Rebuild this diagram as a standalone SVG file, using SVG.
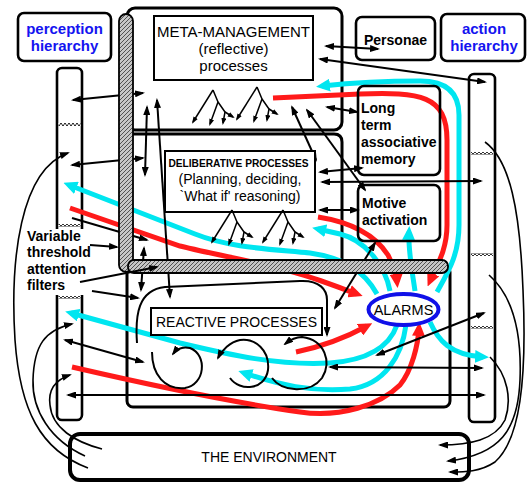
<svg xmlns="http://www.w3.org/2000/svg" xmlns:xlink="http://www.w3.org/1999/xlink" width="527" height="482" viewBox="0 0 527 482">
<style>
text{font-family:"Liberation Sans",Arial,Helvetica,sans-serif;fill:#000}
.r15{font-size:15px}
.r14{font-size:14px}
.b14{font-size:14px;font-weight:bold}
.blue{font-size:15px;font-weight:bold;fill:#1414f0}
.frame{fill:none;stroke:#000;stroke-width:3}
.box{fill:#fff;stroke:#000;stroke-width:2}
.rbox{fill:none;stroke:#000;stroke-width:2.6}
.ar{fill:none;stroke:#000;stroke-width:2}
.ar2{fill:none;stroke:#000;stroke-width:1.6}
.cy{fill:none;stroke:#00e6f0;stroke-width:5}
.rd{fill:none;stroke:#ff1a1a;stroke-width:5}
.bar{fill:url(#h);stroke:#000;stroke-width:1.8}
.div{fill:url(#k)}
</style>
<defs>
<pattern id="h" width="4" height="4" patternUnits="userSpaceOnUse"><rect width="4" height="4" fill="#c6c6c6"/><path d="M-1,1 L1,-1 M0,4 L4,0 M3,5 L5,3" stroke="#444" stroke-width="0.9"/></pattern>
<pattern id="k" width="4" height="3" patternUnits="userSpaceOnUse"><rect width="4" height="3" fill="#fff"/><rect width="2" height="1.5" fill="#333"/><rect x="2" y="1.5" width="2" height="1.5" fill="#333"/></pattern>
<marker id="a" viewBox="0 0 10 7" refX="8" refY="3.5" markerWidth="10" markerHeight="7" markerUnits="userSpaceOnUse" orient="auto-start-reverse"><path d="M0,0 L10,3.5 L0,7 z" fill="#000"/></marker>
<marker id="s" viewBox="0 0 7 5" refX="5" refY="2.5" markerWidth="7" markerHeight="5" markerUnits="userSpaceOnUse" orient="auto"><path d="M0,0 L7,2.5 L0,5 z" fill="#000"/></marker>
<marker id="mc" viewBox="0 0 14 13" refX="8" refY="6.5" markerWidth="14" markerHeight="13" markerUnits="userSpaceOnUse" orient="auto"><path d="M0,0 L14,6.5 L0,13 z" fill="#00e6f0"/></marker>
<marker id="mr" viewBox="0 0 14 13" refX="8" refY="6.5" markerWidth="14" markerHeight="13" markerUnits="userSpaceOnUse" orient="auto"><path d="M0,0 L14,6.5 L0,13 z" fill="#ff1a1a"/></marker>
<g id="tree" fill="none" stroke="#000" stroke-width="1.5">
<path d="M0,0 L-20,32" marker-end="url(#s)"/>
<path d="M0,0 L5,12 L-3,34" marker-end="url(#s)"/>
<path d="M5,12 L12,22 L10,33" marker-end="url(#s)"/>
<path d="M12,22 L20,27" marker-end="url(#s)"/>
</g>
</defs>
<rect width="527" height="482" fill="#fff"/>

<g id="perception-label">
<rect x="18" y="13" width="93" height="48" rx="6" class="rbox"/>
<text x="64.5" y="34" text-anchor="middle" class="blue">perception</text>
<text x="64.5" y="51" text-anchor="middle" class="blue">hierarchy</text>
</g>
<g id="action-label">
<rect x="441" y="14" width="84" height="47" rx="6" class="rbox"/>
<text x="484" y="34" text-anchor="middle" class="blue">action</text>
<text x="484" y="51" text-anchor="middle" class="blue">hierarchy</text>
</g>
<g id="personae">
<rect x="356" y="17" width="79" height="43" rx="6" class="rbox"/>
<text x="395.5" y="45" text-anchor="middle" class="b14">Personae</text>
</g>
<g id="perception-column">
<rect x="57" y="68" width="25" height="352" rx="5" class="rbox"/>
<rect x="58.5" y="123" width="22" height="3" class="div"/>
<rect x="58.5" y="224" width="22" height="3" class="div"/>
<rect x="58.5" y="296" width="22" height="3" class="div"/>
</g>
<g id="action-column">
<rect x="469" y="74" width="26" height="348" rx="5" class="rbox"/>
<rect x="471" y="152" width="22" height="3" class="div"/>
<rect x="471" y="253" width="22" height="3" class="div"/>
<rect x="471" y="326" width="22" height="3" class="div"/>
</g>
<g id="layer-frames">
<rect x="127" y="8" width="215" height="122" rx="8" class="frame"/>
<path d="M133,134 L334,134 Q342,134 342,142 L342,260" class="frame"/>
<rect x="127" y="266" width="323" height="141" rx="6" class="frame"/>
</g>
<g id="environment">
<rect x="70" y="434" width="399" height="46" rx="10" fill="none" stroke="#000" stroke-width="4"/>
<text x="269" y="462" text-anchor="middle" class="r14">THE ENVIRONMENT</text>
</g>

<g id="connectors">
<g id="flows">
<path class="cy" marker-end="url(#mc)" d="M437,292 C448,272 459,255 459,225 L459,115 C459,92 446,81 420,81 C385,81 350,83 322,86"/>
<path class="cy" marker-end="url(#mc)" d="M377,294 C365,272 345,258 310,253 C270,249 230,248 195,234 L69,185"/>
<path class="cy" marker-end="url(#mc)" d="M390,291 C385,265 365,240 340,234 L318,229"/>
<path class="cy" marker-end="url(#mc)" d="M415,291 C412,270 408,250 409,232"/>
<path class="cy" marker-end="url(#mc)" d="M430,322 C438,340 450,355 483,357"/>
<path class="cy" marker-end="url(#mc)" d="M397,325 C390,345 370,360 330,363 C280,366 230,355 180,343 L71,313"/>
<path class="cy" marker-end="url(#mc)" d="M406,325 C402,355 385,385 350,389 C310,392 280,385 244,373"/>
<path class="rd" marker-end="url(#mr)" d="M273,98 L360,94 C420,92 447,95 447,140 L447,225 C447,250 437,265 430,281"/>
<path class="rd" marker-end="url(#mr)" d="M70,208 L180,246 C220,256 260,262 300,274 C320,280 338,287 357,294"/>
<path class="rd" marker-end="url(#mr)" d="M318,217 C350,222 375,235 388,255 C393,265 396,272 397,282"/>
<path class="rd" marker-end="url(#mr)" d="M296,352 C320,347 345,338 367,326"/>
<path class="rd" marker-end="url(#mr)" d="M72,367 C150,385 230,402 300,412 C340,418 380,405 400,385 C412,370 418,345 419,328"/>
</g>
<g id="arrows">
<path class="ar" marker-start="url(#a)" marker-end="url(#a)" d="M73,100 L143,93"/>
<path class="ar" marker-start="url(#a)" marker-end="url(#a)" d="M72,165 L143,158"/>
<path class="ar" marker-start="url(#a)" marker-end="url(#a)" d="M147,107 L145,175"/>
<path class="ar" marker-start="url(#a)" marker-end="url(#a)" d="M157,100 L170,297"/>
<path class="ar" marker-start="url(#a)" marker-end="url(#a)" d="M144,248 L141,290"/>
<path class="ar" marker-start="url(#a)" marker-end="url(#a)" d="M326,46 L378,49"/>
<path class="ar" marker-start="url(#a)" marker-end="url(#a)" d="M320,59 L485,82"/>
<path class="ar" marker-start="url(#a)" marker-end="url(#a)" d="M327,107 L357,112"/>
<path class="ar" marker-start="url(#a)" marker-end="url(#a)" d="M292,107 L316,160"/>
<path class="ar" marker-start="url(#a)" marker-end="url(#a)" d="M307,110 L365,190"/>
<path class="ar" marker-start="url(#a)" marker-end="url(#a)" d="M320,172 L362,168"/>
<path class="ar" marker-start="url(#a)" marker-end="url(#a)" d="M322,182 L481,181"/>
<path class="ar" marker-start="url(#a)" marker-end="url(#a)" d="M320,210 L358,210"/>
<path class="ar" marker-start="url(#a)" marker-end="url(#a)" d="M375,243 L335,308"/>
<path class="ar" marker-start="url(#a)" marker-end="url(#a)" d="M484,313 L377,355"/>
<path class="ar" marker-start="url(#a)" marker-end="url(#a)" d="M330,367 L482,368"/>
<path class="ar" marker-start="url(#a)" marker-end="url(#a)" d="M68,395 L484,395"/>
<path class="ar" marker-start="url(#a)" marker-end="url(#a)" d="M65,340 L143,362"/>
<path class="ar" marker-end="url(#a)" d="M72,218 L147,240"/>
<path class="ar" stroke-width="2.4" marker-end="url(#a)" d="M137,343 C135,315 138,290 165,287 L300,281 C320,280 327,290 327,300 L327,335"/>
<path class="ar" stroke-width="2.4" marker-end="url(#a)" d="M152,352 C152,375 165,390 185,388 C205,385 208,355 190,348 C182,346 176,350 173,354"/>
<path class="ar" stroke-width="2.4" marker-end="url(#a)" d="M230,378 C240,392 265,390 268,370 C270,350 255,338 240,340 C230,342 222,350 218,358"/>
<path class="ar" stroke-width="2.4" marker-end="url(#a)" d="M272,378 C282,392 310,394 322,378 C332,362 325,340 302,337 C295,337 290,340 285,344"/>
<path class="ar2" marker-end="url(#a)" d="M88,468 C40,450 20,410 15,340 C10,260 20,170 68,153"/>
<path class="ar2" marker-end="url(#a)" d="M85,456 C50,440 32,410 33,380 C34,345 45,330 72,324"/>
<path class="ar2" marker-end="url(#a)" d="M102,449 C75,442 52,428 50,405 C48,390 55,380 70,375"/>
<path class="ar2" marker-end="url(#a)" d="M485,142 C510,160 520,210 523,290 C527,380 520,440 495,462 C480,472 465,472 450,472"/>
<path class="ar2" marker-end="url(#a)" d="M489,275 C512,295 522,330 520,380 C518,430 500,455 448,461"/>
<path class="ar2" marker-end="url(#a)" d="M490,357 C508,375 512,400 505,420 C495,440 470,445 440,445"/>
</g>
</g>

<g id="meta-management">
<rect x="154" y="16" width="159" height="64" class="box"/>
<text x="233.5" y="37" text-anchor="middle" class="r15">META-MANAGEMENT</text>
<text x="233.5" y="54" text-anchor="middle" class="r15">(reflective)</text>
<text x="233.5" y="71" text-anchor="middle" class="r15">processes</text>
<use xlink:href="#tree" href="#tree" transform="translate(213,90)"/>
<use xlink:href="#tree" href="#tree" transform="translate(257,87)"/>
</g>
<g id="deliberative">
<rect x="165" y="151" width="150" height="61" class="box"/>
<text x="238.5" y="167" text-anchor="middle" font-size="10.2" font-weight="bold">DELIBERATIVE PROCESSES</text>
<text x="240" y="184" text-anchor="middle" class="r14">(Planning, deciding,</text>
<text x="240" y="201" text-anchor="middle" class="r14">`What if' reasoning)</text>
<use xlink:href="#tree" href="#tree" transform="translate(232,210)"/>
<use xlink:href="#tree" href="#tree" transform="translate(283,210)"/>
</g>
<g id="reactive">
<rect x="151" y="308" width="171" height="27" class="box"/>
<text x="236.5" y="327" text-anchor="middle" class="r14">REACTIVE PROCESSES</text>
</g>
<g id="long-term-memory">
<rect x="358" y="86" width="82" height="89" rx="6" class="rbox"/>
<text x="361" y="113" class="b14">Long</text>
<text x="361" y="130" class="b14">term</text>
<text x="361" y="147" class="b14">associative</text>
<text x="361" y="164" class="b14">memory</text>
</g>
<g id="motive-activation">
<rect x="358" y="185" width="82" height="56" rx="6" class="rbox"/>
<text x="362" y="208" class="b14">Motive</text>
<text x="362" y="225" class="b14">activation</text>
</g>
<g id="alarms">
<ellipse cx="403.5" cy="309.5" rx="35" ry="15.5" fill="#fff" stroke="#1010e8" stroke-width="4"/>
<text x="403.5" y="315" text-anchor="middle" font-size="14.5">ALARMS</text>
</g>

<g id="attention-filters">
<rect x="119" y="14" width="14" height="258" rx="7" class="bar"/>
<rect x="128" y="260" width="320" height="13" rx="6" class="bar"/>
<rect x="25" y="229" width="66" height="66" fill="#fff"/>
<text x="27" y="241" class="b14">Variable</text>
<text x="27" y="257" class="b14">threshold</text>
<text x="27" y="274" class="b14">attention</text>
<text x="27" y="290" class="b14">filters</text>
<path class="ar" marker-end="url(#a)" d="M90,245 L117,247"/>
<path class="ar" marker-end="url(#a)" d="M80,282 L157,267"/>
<path class="ar" marker-end="url(#a)" d="M92,291 L138,298"/>
</g>
</svg>
